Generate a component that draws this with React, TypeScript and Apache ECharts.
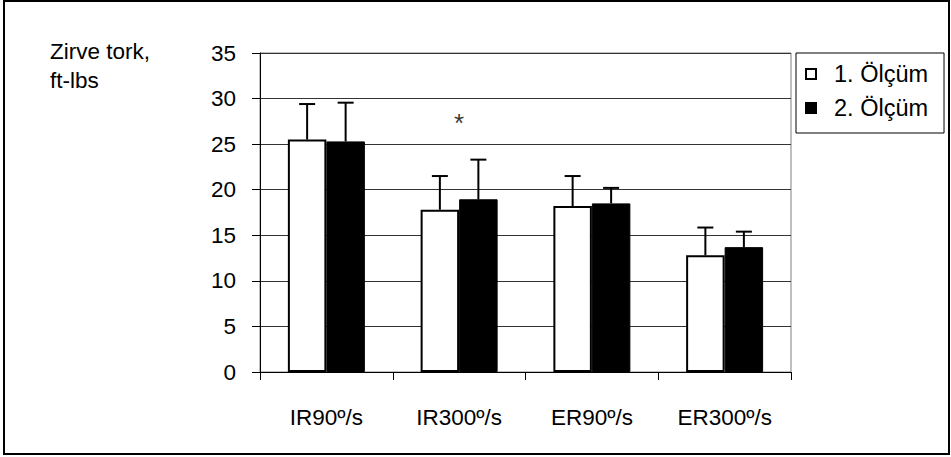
import React, { useEffect, useRef } from "react";
import * as echarts from "echarts";

const categories = ["IR90º/s", "IR300º/s", "ER90º/s", "ER300º/s"];
const seriesNames = ["1. Ölçüm", "2. Ölçüm"];
const meas1 = [25.5, 17.8, 18.2, 12.8];
const meas1Sd = [3.9, 3.7, 3.3, 3.05];
const meas2 = [25.3, 18.95, 18.5, 13.7];
const meas2Sd = [4.25, 4.35, 1.7, 1.7];
const starCategory = "IR300º/s";
const starValue = 27.35;
const yTicks = { min: 0, max: 35, interval: 5 };
const yTitle = "Zirve tork,\nft-lbs";

const FONT = "'Liberation Sans', Arial, sans-serif";

export default function App() {
  const ref = useRef<HTMLDivElement>(null);
  useEffect(() => {
    if (!ref.current) return;
    const chart = echarts.init(ref.current, null, { renderer: "svg" });
    const errRender = (offsetSign: number) => (params: any, api: any) => {
      const idx = api.value(0);
      const mean = api.value(1);
      const high = api.value(2);
      const bw = api.size([1, 0])[0];
      const off = offsetSign * bw * 0.145;
      const pLow = api.coord([idx, mean]);
      const pHigh = api.coord([idx, high]);
      const x = pLow[0] + off;
      const cap = 8;
      return {
        type: "group",
        children: [
          { type: "line", shape: { x1: x, y1: pLow[1], x2: x, y2: pHigh[1] }, style: { stroke: "#000", lineWidth: 2 } },
          { type: "line", shape: { x1: x - cap, y1: pHigh[1], x2: x + cap, y2: pHigh[1] }, style: { stroke: "#000", lineWidth: 2 } },
        ],
      };
    };
    chart.setOption({
      animation: false,
      backgroundColor: "#fff",
      textStyle: { fontFamily: FONT },
      grid: { left: 260, top: 53, right: 160, bottom: 85, show: true, borderColor: "#808080", borderWidth: 1 },
      legend: {
        orient: "vertical",
        left: 796,
        top: 53,
        data: seriesNames,
        itemWidth: 10,
        itemHeight: 10,
        itemGap: 10,
        icon: "rect",
        borderColor: "#000",
        borderWidth: 1,
        borderRadius: 0,
        padding: [9, 16, 13, 9],
        textStyle: { fontFamily: FONT, fontSize: 23.5, color: "#000", lineHeight: 20, padding: [0, 0, 0, 13] },
      },
      xAxis: {
        type: "category",
        data: categories,
        axisLine: { lineStyle: { color: "#000", width: 1 } },
        axisTick: { show: true, length: 8, alignWithLabel: false, interval: 0, lineStyle: { color: "#000" } },
        axisLabel: { fontFamily: FONT, fontSize: 22.5, color: "#000", margin: 34 },
        splitLine: { show: false },
      },
      yAxis: {
        type: "value",
        min: yTicks.min,
        max: yTicks.max,
        interval: yTicks.interval,
        axisLine: { show: true, lineStyle: { color: "#000", width: 1 } },
        axisTick: { show: true, length: 8, lineStyle: { color: "#000" } },
        axisLabel: { fontFamily: FONT, fontSize: 22.5, color: "#000", margin: 24 },
        splitLine: { show: true, lineStyle: { color: "#333", width: 1 } },
      },
      graphic: [
        { type: "rect", shape: { x: 4, y: 1, width: 945, height: 453 }, style: { fill: "none", stroke: "#000", lineWidth: 2 }, silent: true, z: -1 },
        { type: "text", left: 50, top: 37, style: { text: yTitle, fontFamily: FONT, fontSize: 22.5, fill: "#000", lineHeight: 29 } },
      ],
      series: [
        {
          name: seriesNames[0],
          type: "bar",
          data: meas1,
          barGap: "0%",
          barCategoryGap: "42%",
          itemStyle: { color: "#fff", borderColor: "#000", borderWidth: 2 },
        },
        {
          name: seriesNames[1],
          type: "bar",
          data: meas2,
          barGap: "0%",
          barCategoryGap: "42%",
          itemStyle: { color: "#000", borderColor: "#000", borderWidth: 1 },
        },
        {
          type: "custom",
          renderItem: errRender(-1),
          data: meas1.map((m, i) => [i, m, m + meas1Sd[i]]),
          encode: { x: 0, y: [1, 2] },
          z: 3,
        },
        {
          type: "custom",
          renderItem: errRender(1),
          data: meas2.map((m, i) => [i, m, m + meas2Sd[i]]),
          encode: { x: 0, y: [1, 2] },
          z: 3,
        },
        {
          type: "scatter",
          data: [[starCategory, starValue]],
          symbolSize: 0,
          label: { show: true, position: "inside", formatter: "*", fontFamily: FONT, fontSize: 26, color: "#000" },
        },
      ],
    });
    return () => chart.dispose();
  }, []);
  return <div ref={ref} style={{ position: "fixed", left: 0, top: 0, width: 951, height: 457 }} />;
}
